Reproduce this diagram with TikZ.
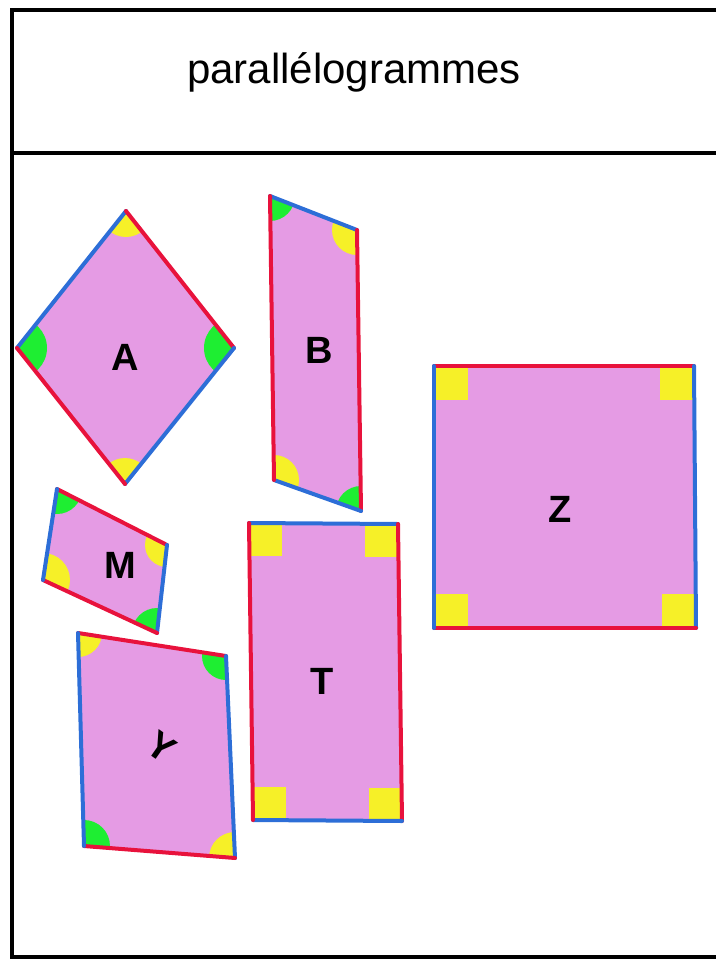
\documentclass[tikz,border=0pt]{standalone}
\usepackage{fontspec}
\setmainfont{Liberation Sans}
\definecolor{pinkfill}{RGB}{229,155,228}
\definecolor{edgered}{RGB}{232,18,60}
\definecolor{edgeblue}{RGB}{45,110,215}
\definecolor{anggreen}{RGB}{30,238,50}
\definecolor{angyellow}{RGB}{246,240,40}
\tikzset{
  frameline/.style={line width=4, black},
  rededge/.style={line width=4, edgered, line cap=round},
  blueedge/.style={line width=4, edgeblue, line cap=round},
  shapefill/.style={fill=pinkfill},
  letter/.style={font=\fontsize{38}{44}\selectfont\bfseries, inner sep=0pt},
}
\begin{document}
\begin{tikzpicture}[x=1pt,y=-1pt]
\useasboundingbox (0,0) rectangle (716,961);
% frame
\draw[frameline] (716,10) -- (12,10) -- (12,957) -- (716,957);
\draw[frameline] (12,153) -- (716,153);
\node[font=\fontsize{42}{50}\selectfont, inner sep=0pt] (title) at (354,72) {parallélogrammes};

% ---------- A ----------
\coordinate (A1) at (126,211);
\coordinate (A2) at (234,348);
\coordinate (A3) at (125,484);
\coordinate (A4) at (17,348);
\fill[shapefill] (A1) -- (A2) -- (A3) -- (A4) -- cycle;
\begin{scope}
  \clip (A1) -- (A2) -- (A3) -- (A4) -- cycle;
  \fill[anggreen] (A2) circle[radius=30] (A4) circle[radius=30];
  \fill[angyellow] (A1) circle[radius=26] (A3) circle[radius=26];
\end{scope}
\draw[blueedge] (A4) -- (A1);
\draw[rededge] (A1) -- (A2);
\draw[blueedge] (A2) -- (A3);
\draw[rededge] (A3) -- (A4);
\node[letter] (la) at (125,357) {A};

% ---------- B ----------
\coordinate (B1) at (270,196);
\coordinate (B2) at (357,230);
\coordinate (B3) at (361,511);
\coordinate (B4) at (274,480);
\fill[shapefill] (B1) -- (B2) -- (B3) -- (B4) -- cycle;
\begin{scope}
  \clip (B1) -- (B2) -- (B3) -- (B4) -- cycle;
  \fill[anggreen] (B1) circle[radius=25] (B3) circle[radius=25];
  \fill[angyellow] (B2) circle[radius=25] (B4) circle[radius=25];
\end{scope}
\draw[blueedge] (B1) -- (B2);
\draw[rededge] (B2) -- (B3);
\draw[blueedge] (B3) -- (B4);
\draw[rededge] (B4) -- (B1);
\node[letter] (lb) at (319,350) {B};

% ---------- M ----------
\coordinate (M1) at (57,489);
\coordinate (M2) at (167,545);
\coordinate (M3) at (157,633);
\coordinate (M4) at (43,580);
\fill[shapefill] (M1) -- (M2) -- (M3) -- (M4) -- cycle;
\begin{scope}
  \clip (M1) -- (M2) -- (M3) -- (M4) -- cycle;
  \fill[anggreen] (M1) circle[radius=25] (M3) circle[radius=25];
  \fill[angyellow] (M2) circle[radius=22] (M4) circle[radius=27];
\end{scope}
\draw[rededge] (M1) -- (M2);
\draw[blueedge] (M2) -- (M3);
\draw[rededge] (M3) -- (M4);
\draw[blueedge] (M4) -- (M1);
\node[letter] (lm) at (120,565) {M};

% ---------- Y ----------
\coordinate (Y1) at (78,633);
\coordinate (Y2) at (226,656);
\coordinate (Y3) at (235,858);
\coordinate (Y4) at (84,846);
\fill[shapefill] (Y1) -- (Y2) -- (Y3) -- (Y4) -- cycle;
\begin{scope}
  \clip (Y1) -- (Y2) -- (Y3) -- (Y4) -- cycle;
  \fill[anggreen] (Y2) circle[radius=24] (Y4) circle[radius=26];
  \fill[angyellow] (Y1) circle[radius=24] (Y3) circle[radius=26];
\end{scope}
\draw[rededge] (Y1) -- (Y2);
\draw[blueedge] (Y2) -- (Y3);
\draw[rededge] (Y3) -- (Y4);
\draw[blueedge] (Y4) -- (Y1);
\node[letter, rotate=-35] (ly) at (161,747) {Y};

% ---------- T ----------
\coordinate (T1) at (249,523);
\coordinate (T2) at (398,524);
\coordinate (T3) at (402,821);
\coordinate (T4) at (253,820);
\fill[shapefill] (T1) -- (T2) -- (T3) -- (T4) -- cycle;
\begin{scope}
  \clip (T1) -- (T2) -- (T3) -- (T4) -- cycle;
  \fill[angyellow] (T1) rectangle +(33,33);
  \fill[angyellow] (T2) rectangle +(-33,33);
  \fill[angyellow] (T3) rectangle +(-33,-33);
  \fill[angyellow] (T4) rectangle +(33,-33);
\end{scope}
\draw[blueedge] (T1) -- (T2);
\draw[rededge] (T2) -- (T3);
\draw[blueedge] (T3) -- (T4);
\draw[rededge] (T4) -- (T1);
\node[letter] (lt) at (322,681) {T};

% ---------- Z ----------
\coordinate (Z1) at (434,366);
\coordinate (Z2) at (694,366);
\coordinate (Z3) at (696,628);
\coordinate (Z4) at (434,628);
\fill[shapefill] (Z1) -- (Z2) -- (Z3) -- (Z4) -- cycle;
\begin{scope}
  \clip (Z1) -- (Z2) -- (Z3) -- (Z4) -- cycle;
  \fill[angyellow] (Z1) rectangle +(34,34);
  \fill[angyellow] (Z2) rectangle +(-34,34);
  \fill[angyellow] (Z3) rectangle +(-34,-34);
  \fill[angyellow] (Z4) rectangle +(34,-34);
\end{scope}
\draw[rededge] (Z1) -- (Z2);
\draw[blueedge] (Z2) -- (Z3);
\draw[rededge] (Z3) -- (Z4);
\draw[blueedge] (Z4) -- (Z1);
\node[letter] (lz) at (560,509) {Z};
\end{tikzpicture}
\end{document}
